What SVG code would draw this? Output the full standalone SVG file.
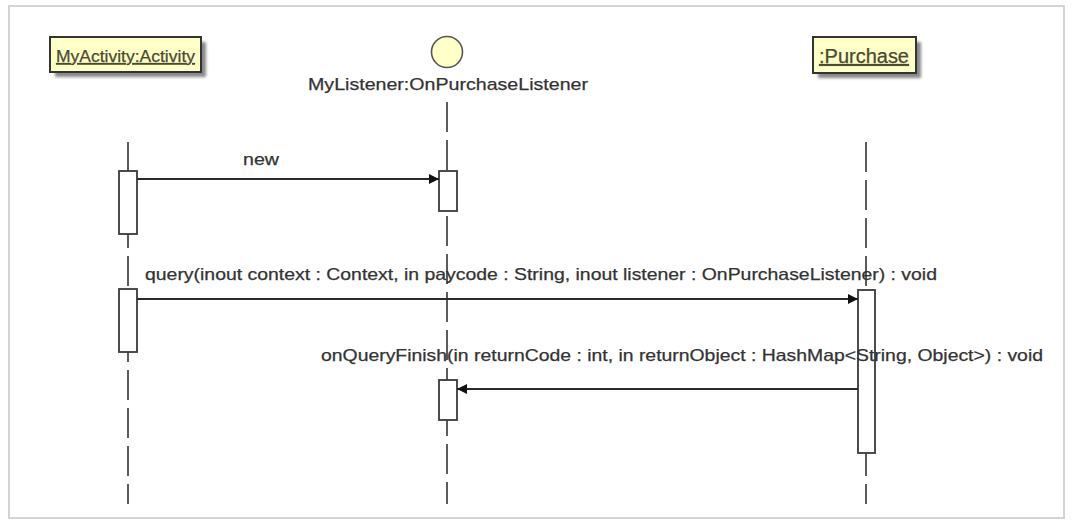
<svg xmlns="http://www.w3.org/2000/svg" width="1072" height="521" viewBox="0 0 1072 521">
<style>
.lbl{font-family:"Liberation Sans",Arial,sans-serif;fill:#333;stroke:#333;stroke-width:0.25;}
.box{fill:#ffffc8;stroke:#333;stroke-width:2;}
.shadow{fill:#888;}
.boxtxt{font-family:"Liberation Sans",Arial,sans-serif;fill:#4a4a30;stroke:#4a4a30;stroke-width:0.25;text-decoration:underline;}
.life{stroke:#4a4a4a;stroke-width:1.8;stroke-dasharray:30 8;fill:none;}
.act{fill:#fff;stroke:#3a3a3a;stroke-width:1.8;}
.msg{stroke:#2a2a2a;stroke-width:1.8;fill:none;}
</style>
<defs>
<marker id="ah" markerWidth="12" markerHeight="12" refX="10" refY="6" orient="auto" markerUnits="userSpaceOnUse">
<path d="M0,1 L10,6 L0,11 Z" fill="#111"/>
</marker>
<filter id="blur" x="-20%" y="-20%" width="140%" height="140%"><feGaussianBlur stdDeviation="1.5"/></filter>
</defs>
<rect x="0" y="0" width="1072" height="521" fill="#fff"/>
<rect x="9" y="6" width="1055" height="512" fill="none" stroke="#d4d4d4" stroke-width="2"/>

<g id="connectors">
<line class="life" x1="128" y1="142" x2="128" y2="504"/>
<line class="life" x1="447" y1="102" x2="447" y2="504"/>
<line class="life" x1="866" y1="142" x2="866" y2="504"/>
</g>

<g id="activity">
<rect class="shadow" x="55" y="42" width="151" height="35" filter="url(#blur)"/>
<rect class="box" x="50" y="37" width="151" height="35"/>
<text class="boxtxt" x="56" y="62" font-size="17" textLength="139" lengthAdjust="spacingAndGlyphs">MyActivity:Activity</text>
<rect class="act" x="119" y="171" width="18" height="63"/>
<rect class="act" x="119" y="289" width="18" height="63"/>
</g>

<g id="listener">
<circle cx="447" cy="52" r="15.5" fill="#ffffc8" stroke="#555" stroke-width="1.6"/>
<text class="lbl" x="308" y="90" font-size="17" textLength="280" lengthAdjust="spacingAndGlyphs">MyListener:OnPurchaseListener</text>
<rect class="act" x="439" y="171" width="18" height="40"/>
<rect class="act" x="439" y="380" width="18" height="40"/>
</g>

<g id="purchase">
<rect class="shadow" x="818" y="42" width="103" height="36" filter="url(#blur)"/>
<rect class="box" x="813" y="37" width="103" height="36"/>
<text class="boxtxt" x="819" y="63" font-size="19.5" textLength="90" lengthAdjust="spacingAndGlyphs">:Purchase</text>
<rect class="act" x="858" y="290" width="17" height="163"/>
</g>

<g id="messages">
<line class="msg" x1="137" y1="179" x2="439" y2="179" marker-end="url(#ah)"/>
<text class="lbl" x="243" y="165" font-size="17" textLength="36" lengthAdjust="spacingAndGlyphs">new</text>
<line class="msg" x1="137" y1="299" x2="858" y2="299" marker-end="url(#ah)"/>
<text class="lbl" x="145" y="280" font-size="16.5" textLength="792" lengthAdjust="spacingAndGlyphs">query(inout context : Context, in paycode : String, inout listener : OnPurchaseListener) : void</text>
<line class="msg" x1="858" y1="389" x2="457" y2="389" marker-end="url(#ah)"/>
<text class="lbl" x="321" y="361" font-size="16.5" textLength="722" lengthAdjust="spacingAndGlyphs">onQueryFinish(in returnCode : int, in returnObject : HashMap&lt;String, Object&gt;) : void</text>
</g>
</svg>
